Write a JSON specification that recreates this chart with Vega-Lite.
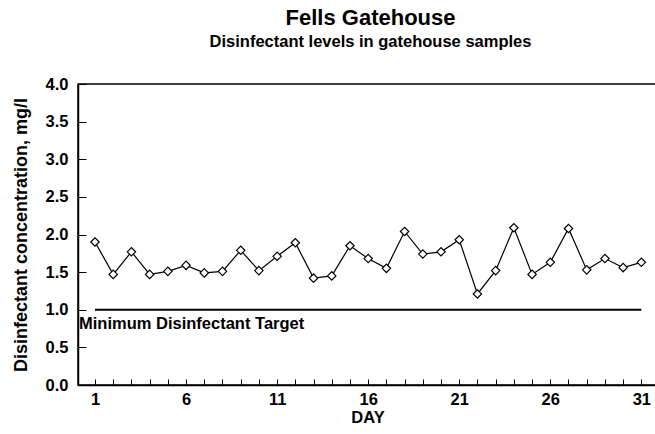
{
  "$schema": "https://vega.github.io/schema/vega-lite/v6.json",
  "autosize": "none",
  "width": 579,
  "height": 301,
  "padding": {"left": 78, "top": 84, "right": -2, "bottom": 49},
  "background": "white",
  "config": {
    "view": {"stroke": "black", "strokeWidth": 1.5},
    "font": "Liberation Sans",
    "axis": {"grid": false, "domainColor": "black", "domainWidth": 1.5, "tickColor": "black", "labelColor": "black", "titleColor": "black", "labelFont": "Liberation Sans", "titleFont": "Liberation Sans"}
  },
  "title": {
    "text": "Fells Gatehouse",
    "subtitle": "Disinfectant levels in gatehouse samples",
    "anchor": "middle",
    "dx": 3,
    "offset": 25,
    "fontSize": 22,
    "fontWeight": "bold",
    "color": "black",
    "subtitleFontSize": 16.5,
    "subtitleFontWeight": "bold",
    "subtitleColor": "black",
    "subtitlePadding": 4,
    "font": "Liberation Sans",
    "subtitleFont": "Liberation Sans"
  },
  "datasets": {
    "samples": [
      {"day": 1, "conc": 1.90}, {"day": 2, "conc": 1.47}, {"day": 3, "conc": 1.77},
      {"day": 4, "conc": 1.47}, {"day": 5, "conc": 1.51}, {"day": 6, "conc": 1.59},
      {"day": 7, "conc": 1.49}, {"day": 8, "conc": 1.51}, {"day": 9, "conc": 1.79},
      {"day": 10, "conc": 1.52}, {"day": 11, "conc": 1.71}, {"day": 12, "conc": 1.89},
      {"day": 13, "conc": 1.42}, {"day": 14, "conc": 1.45}, {"day": 15, "conc": 1.85},
      {"day": 16, "conc": 1.68}, {"day": 17, "conc": 1.55}, {"day": 18, "conc": 2.04},
      {"day": 19, "conc": 1.74}, {"day": 20, "conc": 1.77}, {"day": 21, "conc": 1.93},
      {"day": 22, "conc": 1.21}, {"day": 23, "conc": 1.52}, {"day": 24, "conc": 2.09},
      {"day": 25, "conc": 1.47}, {"day": 26, "conc": 1.63}, {"day": 27, "conc": 2.08},
      {"day": 28, "conc": 1.53}, {"day": 29, "conc": 1.68}, {"day": 30, "conc": 1.56},
      {"day": 31, "conc": 1.63}
    ],
    "target": [
      {"day_start": 1, "day_end": 31, "target": 1.0, "label": "Minimum Disinfectant Target"}
    ]
  },
  "resolve": {"axis": {"x": "independent", "y": "independent"}},
  "layer": [
    {
      "data": {"name": "samples"},
      "mark": {"type": "line", "color": "black", "strokeWidth": 1.2},
      "encoding": {
        "x": {
          "field": "day", "type": "quantitative",
          "scale": {"domain": [0.066, 31.86], "nice": false, "zero": false},
          "axis": {
            "orient": "bottom",
            "values": [1, 6, 11, 16, 21, 26, 31],
            "ticks": false,
            "labelPadding": 6,
            "labelFontSize": 16.5,
            "labelFontWeight": "bold",
            "labelFlush": false,
            "labelOverlap": false,
            "title": "DAY",
            "titleFontSize": 16.5,
            "titleFontWeight": "bold",
            "titlePadding": 2
          }
        },
        "y": {
          "field": "conc", "type": "quantitative",
          "scale": {"domain": [0, 4], "nice": false},
          "axis": {
            "orient": "left",
            "values": [0, 0.5, 1, 1.5, 2, 2.5, 3, 3.5, 4],
            "format": ".1f",
            "ticks": false,
            "labelPadding": 10,
            "labelFontSize": 16.5,
            "labelFontWeight": "bold",
            "labelFlush": false,
            "labelOverlap": false,
            "title": "Disinfectant concentration, mg/l",
            "titleFontSize": 18,
            "titleFontWeight": "bold",
            "titlePadding": 15
          }
        }
      }
    },
    {
      "data": {"name": "samples"},
      "mark": {"type": "point", "shape": "diamond", "filled": true, "fill": "white", "stroke": "black", "strokeWidth": 1.2, "size": 70, "opacity": 1},
      "encoding": {
        "x": {"field": "day", "type": "quantitative", "axis": null},
        "y": {"field": "conc", "type": "quantitative", "axis": null}
      }
    },
    {
      "data": {"name": "target"},
      "mark": {"type": "rule", "color": "black", "strokeWidth": 2},
      "encoding": {
        "x": {
          "field": "day_start", "type": "quantitative",
          "axis": {
            "orient": "top", "offset": -301, "domain": false, "labels": false, "ticks": true,
            "tickSize": 6, "tickWidth": 1,
            "values": [1,2,3,4,5,6,7,8,9,10,11,12,13,14,15,16,17,18,19,20,21,22,23,24,25,26,27,28,29,30,31],
            "title": null
          }
        },
        "x2": {"field": "day_end"},
        "y": {
          "field": "target", "type": "quantitative",
          "axis": {
            "orient": "right", "offset": -579, "domain": false, "labels": false, "ticks": true,
            "tickSize": 8, "tickWidth": 1,
            "values": [0, 0.5, 1, 1.5, 2, 2.5, 3, 3.5, 4],
            "title": null
          }
        }
      }
    },
    {
      "data": {"name": "target"},
      "mark": {"type": "text", "align": "left", "baseline": "top", "dx": -16, "dy": 6, "fontSize": 16.5, "fontWeight": "bold", "color": "black", "font": "Liberation Sans"},
      "encoding": {
        "x": {"field": "day_start", "type": "quantitative", "axis": null},
        "y": {"field": "target", "type": "quantitative", "axis": null},
        "text": {"field": "label"}
      }
    }
  ]
}
